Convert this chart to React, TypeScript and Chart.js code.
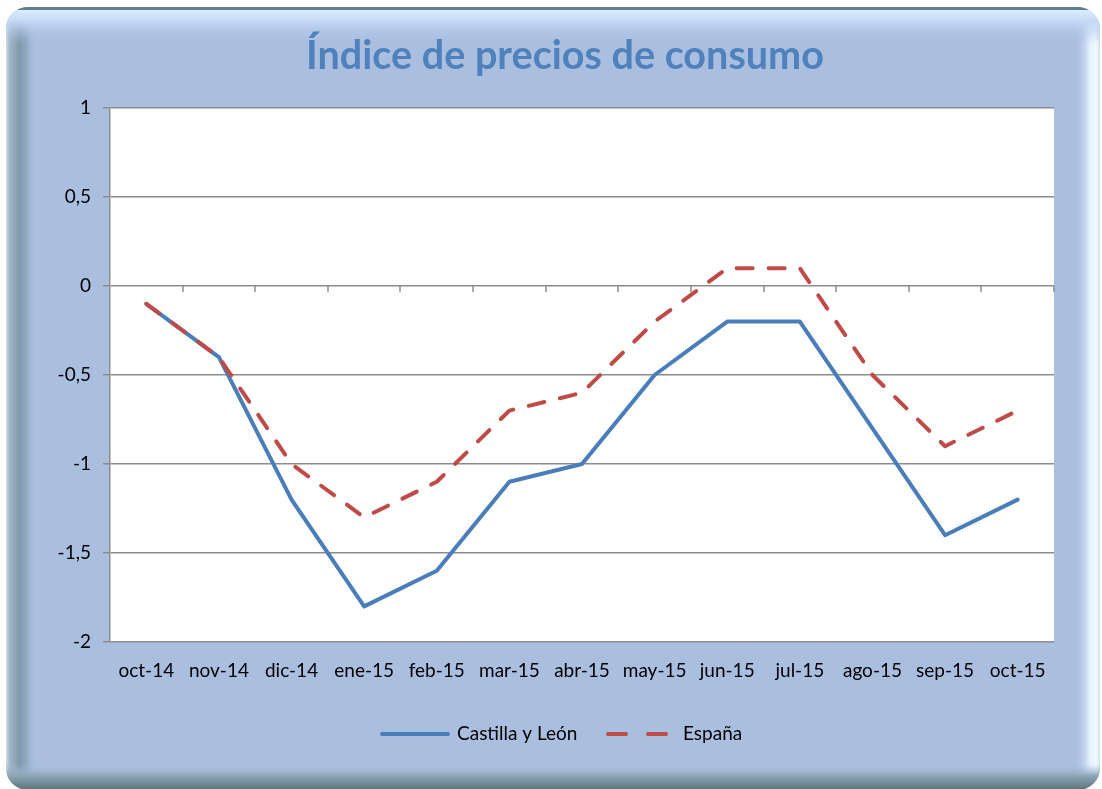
import React, { useEffect, useRef } from 'react';
import { Chart, registerables } from 'chart.js';

Chart.register(...registerables);

const titleText = 'Índice de precios de consumo';
const categories = ['oct-14', 'nov-14', 'dic-14', 'ene-15', 'feb-15', 'mar-15', 'abr-15', 'may-15', 'jun-15', 'jul-15', 'ago-15', 'sep-15', 'oct-15'];
const castillaLeon = [-0.1, -0.4, -1.2, -1.8, -1.6, -1.1, -1.0, -0.5, -0.2, -0.2, -0.8, -1.4, -1.2];
const espana = [-0.1, -0.4, -1.0, -1.3, -1.1, -0.7, -0.6, -0.2, 0.1, 0.1, -0.5, -0.9, -0.7];
const seriesLabels = ['Castilla y León', 'España'];
const yMin = -2;
const yMax = 1;
const yStep = 0.5;

const W = 1102;
const H = 789;
const FONT = 'Lato, "Open Sans", sans-serif';
const FS = 19;
const BASE = '#AABFE0';
const BLUE = '#4A7EBB';
const RED = '#BE4B48';
const GRID = '#8C8C8C';

const framePlugin = {
  id: 'frame',
  beforeDraw(chart: any) {
    const ctx = chart.ctx;
    ctx.save();
    ctx.fillStyle = '#ffffff';
    ctx.fillRect(0, 0, W, H);
    ctx.beginPath();
    (ctx as any).roundRect(6, 7, 1094, 783, 22);
    ctx.clip();
    ctx.fillStyle = BASE;
    ctx.fillRect(0, 0, W, H);
    // left bevel
    let g = ctx.createLinearGradient(6, 0, 36, 0);
    g.addColorStop(0, '#d4e0ea');
    g.addColorStop(0.12, '#a2b6c6');
    g.addColorStop(0.45, '#8199ad');
    g.addColorStop(0.7, '#93abc6');
    g.addColorStop(1, 'rgba(170,191,224,0)');
    ctx.fillStyle = g;
    ctx.fillRect(6, 0, 30, H);
    // right bevel
    g = ctx.createLinearGradient(1074, 0, 1100, 0);
    g.addColorStop(0, 'rgba(170,191,224,0)');
    g.addColorStop(0.6, '#e2f1ff');
    g.addColorStop(0.85, '#f2faff');
    g.addColorStop(1, '#cfe2f2');
    ctx.fillStyle = g;
    ctx.fillRect(1074, 0, 28, H);
    // top bevel
    g = ctx.createLinearGradient(0, 10, 0, 44);
    g.addColorStop(0, '#dcedff');
    g.addColorStop(0.3, '#c6dbf6');
    g.addColorStop(1, 'rgba(170,191,224,0)');
    ctx.fillStyle = g;
    ctx.fillRect(0, 10, W, 34);
    ctx.fillStyle = '#62808a';
    ctx.fillRect(0, 7, W, 3);
    // bottom bevel
    g = ctx.createLinearGradient(0, 764, 0, 790);
    g.addColorStop(0, 'rgba(170,191,224,0)');
    g.addColorStop(0.45, '#8ea6b4');
    g.addColorStop(1, '#58747c');
    ctx.fillStyle = g;
    ctx.fillRect(0, 764, W, 26);
    ctx.restore();

    // plot area
    const a = chart.chartArea;
    ctx.save();
    ctx.fillStyle = '#ffffff';
    ctx.fillRect(a.left, a.top, a.right - a.left, a.bottom - a.top);
    ctx.restore();

    // title
    ctx.save();
    let size = 34;
    ctx.font = `bold ${size}px ${FONT}`;
    const w = ctx.measureText(titleText).width;
    size = size * 518 / w;
    ctx.font = `bold ${size}px ${FONT}`;
    ctx.fillStyle = '#4F81BD';
    ctx.textAlign = 'center';
    ctx.textBaseline = 'alphabetic';
    ctx.fillText(titleText, 565, 69);
    ctx.restore();
  },
  beforeDatasetsDraw(chart: any) {
    const ctx = chart.ctx;
    const a = chart.chartArea;
    const y0 = chart.scales.y.getPixelForValue(0);
    const n = categories.length;
    const cw = (a.right - a.left) / n;
    ctx.save();
    ctx.strokeStyle = GRID;
    ctx.lineWidth = 1.5;
    for (let i = 1; i <= n; i++) {
      const x = Math.round(a.left + i * cw);
      ctx.beginPath();
      ctx.moveTo(x, y0);
      ctx.lineTo(x, y0 + 6);
      ctx.stroke();
    }
    ctx.restore();
  },
  afterDraw(chart: any) {
    const ctx = chart.ctx;
    const ds = chart.data.datasets;
    ctx.save();
    ctx.font = `${FS}px ${FONT}`;
    ctx.fillStyle = '#000';
    ctx.textBaseline = 'middle';
    ctx.textAlign = 'left';
    const y = 734;
    // series 1: solid
    ctx.strokeStyle = ds[0].borderColor;
    ctx.lineWidth = 4;
    ctx.lineCap = 'round';
    ctx.beginPath();
    ctx.moveTo(382, y);
    ctx.lineTo(448, y);
    ctx.stroke();
    ctx.fillText(ds[0].label, 457, y);
    // series 2: dashed
    ctx.strokeStyle = ds[1].borderColor;
    ctx.setLineDash([18, 22]);
    ctx.beginPath();
    ctx.moveTo(608, y);
    ctx.lineTo(668, y);
    ctx.stroke();
    ctx.setLineDash([]);
    ctx.fillText(ds[1].label, 683, y);
    ctx.restore();
  },
};

export default function App() {
  const ref = useRef<HTMLCanvasElement | null>(null);
  useEffect(() => {
    if (!ref.current) return;
    const chart = new Chart(ref.current, {
      type: 'line',
      data: {
        labels: categories,
        datasets: [
          {
            label: seriesLabels[0],
            data: castillaLeon,
            borderColor: BLUE,
            backgroundColor: BLUE,
            borderWidth: 4,
            pointRadius: 0,
            tension: 0,
            borderJoinStyle: 'round',
            borderCapStyle: 'round',
            order: 1,
          },
          {
            label: seriesLabels[1],
            data: espana,
            borderColor: RED,
            backgroundColor: RED,
            borderWidth: 4,
            pointRadius: 0,
            tension: 0,
            borderDash: [16, 16],
            borderJoinStyle: 'round',
            borderCapStyle: 'round',
            order: 0,
          },
        ],
      },
      plugins: [framePlugin],
      options: {
        responsive: false,
        animation: false,
        devicePixelRatio: 1,
        layout: { padding: { left: 40, right: 48, top: 108, bottom: 107 } },
        plugins: {
          legend: { display: false },
          title: { display: false },
          tooltip: { enabled: false },
        },
        scales: {
          x: {
            type: 'category',
            offset: true,
            grid: { display: false, drawTicks: false },
            border: { display: false },
            ticks: { color: '#000', font: { family: FONT, size: FS }, padding: 17, maxRotation: 0, autoSkip: false },
            afterFit(scale: any) { scale.height = 40; },
          },
          y: {
            min: yMin,
            max: yMax,
            grid: { color: GRID, lineWidth: 1.5, tickLength: 7, drawTicks: true },
            border: { display: true, color: GRID, width: 1.5 },
            ticks: {
              stepSize: yStep,
              color: '#000',
              font: { family: FONT, size: FS },
              padding: 12,
              callback: (v: any) => String(Math.round(Number(v) * 10) / 10).replace('.', ','),
            },
            afterFit(scale: any) { scale.width = 70; },
          },
        },
      },
    });
    return () => chart.destroy();
  }, []);
  return (
    <div style={{ position: 'fixed', left: 0, top: 0, width: W, height: H }}>
      <canvas ref={ref} width={W} height={H} style={{ display: 'block', width: W, height: H }} />
    </div>
  );
}
